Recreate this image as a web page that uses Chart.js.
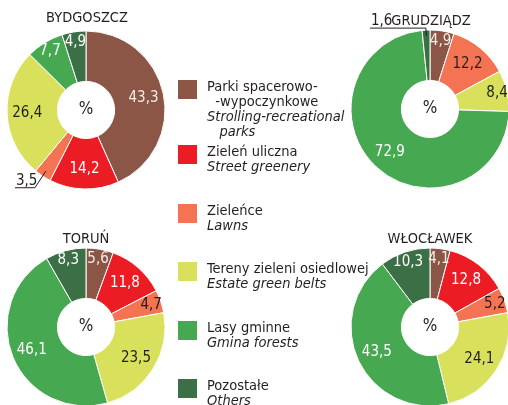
<!DOCTYPE html>
<html>
<head>
<meta charset="utf-8">
<script src="https://cdn.jsdelivr.net/npm/chart.js@4.4.0/dist/chart.umd.min.js"></script>
<style>
body { margin: 0; width: 508px; height: 405px; overflow: hidden; background: #fff; position: relative;
       font-family: "DejaVu Sans Condensed", sans-serif; color: #231f20; }
canvas { position: absolute; }
.title { position: absolute; font-size: 14.5px; line-height: 16px; transform: translateX(-50%); white-space: nowrap; z-index: 2; }
.sw { position: absolute; left: 178px; width: 19px; height: 19px; }
.lg { position: absolute; left: 207px; font-size: 14.5px; line-height: 15px; white-space: nowrap; }
</style>
</head>
<body>
<div class="title" style="left:87px; top:9px">BYDGOSZCZ</div>
<div class="title" style="left:431px; top:12px">GRUDZIĄDZ</div>
<div class="title" style="left:86px; top:230px">TORUŃ</div>
<div class="title" style="left:430px; top:230px">WŁOCŁAWEK</div>

<canvas id="bydgoszcz" width="200" height="200" style="left:-14px; top:10px"></canvas>
<canvas id="grudziadz" width="200" height="200" style="left:330px; top:9px"></canvas>
<canvas id="torun" width="200" height="200" style="left:-14px; top:227px"></canvas>
<canvas id="wloclawek" width="200" height="200" style="left:330px; top:227px"></canvas>

<div id="legend"></div>

<script>
const categories = ['Parki spacerowo-wypoczynkowe', 'Zieleń uliczna', 'Zieleńce', 'Tereny zieleni osiedlowej', 'Lasy gminne', 'Pozostałe'];
const colors = ['#8b5646', '#ec1c24', '#f37352', '#d8e05c', '#47a852', '#3b6f45'];
const labelColors = ['#f2ece8', '#ffffff', '#231f20', '#231f20', '#ffffff', '#ffffff'];

const bydgoszcz = [43.3, 14.2, 3.5, 26.4, 7.7, 4.9];
const grudziadz = [4.9, 0, 12.2, 8.4, 72.9, 1.6];
const torun = [5.6, 11.8, 4.7, 23.5, 46.1, 8.3];
const wloclawek = [4.1, 12.8, 5.2, 24.1, 43.5, 10.3];

const FONT = '"DejaVu Sans Condensed", sans-serif';
const DARK = '#231f20';

// values written on the slices, small ones outside with a leader line
const sliceLabels = {
     id: 'sliceLabels',
     afterDatasetsDraw(chart, args, opts) {
          const ctx = chart.ctx;
          const meta = chart.getDatasetMeta(0);
          const data = chart.data.datasets[0].data;
          let cx = 0, cy = 0;
          ctx.save();
          ctx.font = '15px ' + FONT;
          meta.data.forEach(function (arc, i) {
               const p = arc.getProps(['x', 'y', 'startAngle', 'endAngle', 'innerRadius', 'outerRadius'], true);
               cx = p.x; cy = p.y;
               const v = data[i];
               if (!v) return;
               const mid = (p.startAngle + p.endAngle) / 2;
               const txt = v.toFixed(1).replace('.', ',');
               if (i === opts.outside) {
                    const sx = p.x + Math.cos(mid) * (p.outerRadius - 6);
                    const sy = p.y + Math.sin(mid) * (p.outerRadius - 6);
                    const ex = p.x + Math.cos(mid) * (p.outerRadius + opts.elbow);
                    const ey = p.y + Math.sin(mid) * (p.outerRadius + opts.elbow);
                    ctx.strokeStyle = DARK;
                    ctx.lineWidth = 1;
                    ctx.beginPath();
                    ctx.moveTo(sx, sy);
                    ctx.lineTo(ex, ey);
                    ctx.lineTo(ex - opts.len, ey);
                    ctx.stroke();
                    ctx.fillStyle = DARK;
                    ctx.textAlign = 'left';
                    ctx.textBaseline = 'bottom';
                    ctx.fillText(txt, ex - opts.len + 1, ey + 1);
               } else {
                    // thin slices get their label nearer the rim
                    const f = v < 11 ? 0.8 : 0.6;
                    const r = p.innerRadius + f * (p.outerRadius - p.innerRadius);
                    ctx.fillStyle = labelColors[i];
                    ctx.textAlign = 'center';
                    ctx.textBaseline = 'middle';
                    ctx.fillText(txt, p.x + Math.cos(mid) * r, p.y + Math.sin(mid) * r);
               }
          });
          ctx.font = '17px ' + FONT;
          ctx.fillStyle = DARK;
          ctx.textAlign = 'center';
          ctx.textBaseline = 'middle';
          ctx.fillText('%', cx, cy);
          ctx.restore();
     }
};

function makeChart(id, values, labelOpts) {
     new Chart(document.getElementById(id), {
          type: 'doughnut',
          data: {
               labels: categories,
               datasets: [{
                    data: values,
                    backgroundColor: colors,
                    borderColor: '#ffffff',
                    borderWidth: 1
               }]
          },
          options: {
               responsive: false,
               animation: false,
               devicePixelRatio: 1,
               radius: 79,
               cutout: 36,
               layout: { padding: 0 },
               events: [],
               plugins: {
                    legend: { display: false },
                    tooltip: { enabled: false },
                    sliceLabels: labelOpts
               }
          },
          plugins: [sliceLabels]
     });
}

makeChart('bydgoszcz', bydgoszcz, { outside: 2, elbow: 14, len: 20 });
makeChart('grudziadz', grudziadz, { outside: 5, elbow: 2, len: 56 });
makeChart('torun', torun, { outside: -1 });
makeChart('wloclawek', wloclawek, { outside: -1 });

// legend entries, two languages each
const legendRows = [
     { top: 80, html: 'Parki spacerowo-<br>&nbsp;&nbsp;-wypoczynkowe<br><i>Strolling-recreational</i><br><i>&nbsp;&nbsp;&nbsp;parks</i>' },
     { top: 145, html: 'Zieleń uliczna<br><i>Street greenery</i>' },
     { top: 204, html: 'Zieleńce<br><i>Lawns</i>' },
     { top: 262, html: 'Tereny zieleni osiedlowej<br><i>Estate green belts</i>' },
     { top: 321, html: 'Lasy gminne<br><i>Gmina forests</i>' },
     { top: 379, html: 'Pozostałe<br><i>Others</i>' }
];
const legend = document.getElementById('legend');
legendRows.forEach(function (row, i) {
     const sw = document.createElement('div');
     sw.className = 'sw';
     sw.style.top = row.top + 'px';
     sw.style.background = colors[i];
     legend.appendChild(sw);
     const tx = document.createElement('div');
     tx.className = 'lg';
     tx.style.top = (row.top - 1) + 'px';
     tx.innerHTML = row.html;
     legend.appendChild(tx);
});
</script>
</body>
</html>
